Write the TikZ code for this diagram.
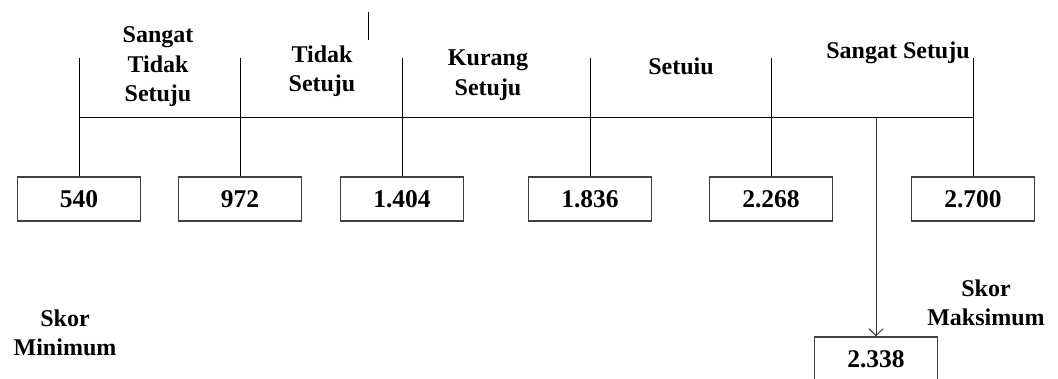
\documentclass[tikz,border=0pt]{standalone}
\usepackage{fontspec}
\setmainfont{Liberation Serif}
\usetikzlibrary{arrows.meta}
\begin{document}
\begin{tikzpicture}[x=1pt,y=-1pt,
  valbox/.style={draw=black!75,line width=1.2pt,minimum width=123pt,minimum height=44pt,inner sep=0pt,font=\fontsize{25.5}{28}\selectfont\bfseries},
  lbl/.style={align=center,font=\fontsize{24}{29.5}\selectfont\bfseries,inner sep=0pt},
  tick/.style={line width=1pt,black}]
\useasboundingbox (0,0) rectangle (1058,378);
% value boxes
\node[valbox] (b1) at (79,199) {540};
\node[valbox] (b2) at (240,199) {972};
\node[valbox] (b3) at (402,199) {1.404};
\node[valbox] (b4) at (590,199) {1.836};
\node[valbox] (b5) at (771,199) {2.268};
\node[valbox] (b6) at (973,199) {2.700};
\node[valbox] (b7) at (876,359) {2.338};
% tick tops
\coordinate (t1) at (79,58);
\coordinate (t2) at (240,58);
\coordinate (t3) at (402,58);
\coordinate (t4) at (590,58);
\coordinate (t5) at (771,58);
\coordinate (t6) at (973,58);
\coordinate (hl) at (79,117);
\coordinate (hr) at (973,117);
\coordinate (ha) at (876,117);
\draw[tick] (hl) -- (hr);
\draw[tick] (t1) -- (b1.north);
\draw[tick] (t2) -- (b2.north);
\draw[tick] (t3) -- (b3.north);
\draw[tick] (t4) -- (b4.north);
\draw[tick] (t5) -- (b5.north);
\draw[tick] (t6) -- (b6.north);
\draw[line width=1pt,black!80,-{Straight Barb[length=7pt,width=14pt]}] (ha) -- (b7.north);
% stray mark
\coordinate (s1) at (368,12);
\coordinate (s2) at (368,40);
\draw[line width=1pt] (s1) -- (s2);
% labels
\node[lbl] (l1) at (158,67) {Sangat\\Tidak\\Setuju};
\node[lbl] (l2) at (322,71) {Tidak\\Setuju};
\node[lbl] (l3) at (488,75) {Kurang\\Setuju};
\node[lbl] (l4) at (681,66) {Setuiu};
\node[lbl] (l5) at (898,53) {Sangat Setuju};
\node[lbl] (l6) at (65,333) {Skor\\Minimum};
\node[lbl] (l7) at (986,303) {Skor\\Maksimum};
\end{tikzpicture}
\end{document}
